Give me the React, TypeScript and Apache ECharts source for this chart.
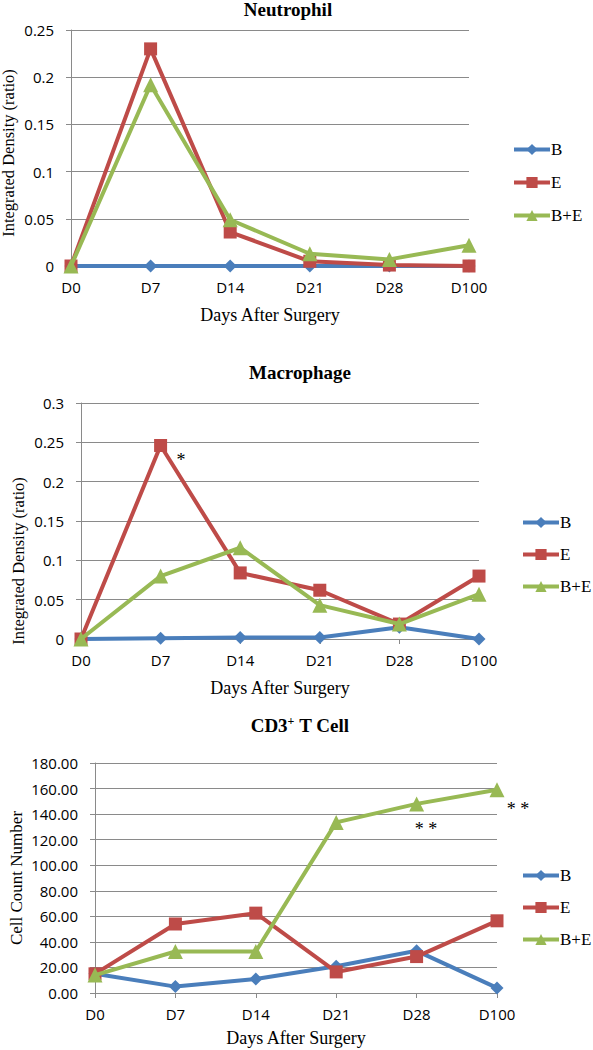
import React, { useEffect, useRef } from "react";
import * as echarts from "echarts";

const categories = ["D0", "D7", "D14", "D21", "D28", "D100"];
const seriesNames = ["B", "E", "B+E"];

const neutB = [0, 0, 0, 0, 0, 0];
const neutE = [0, 0.23, 0.036, 0.005, 0.001, 0];
const neutBE = [0, 0.192, 0.049, 0.013, 0.007, 0.022];

const macB = [0, 0.001, 0.002, 0.002, 0.015, 0];
const macE = [0, 0.246, 0.084, 0.062, 0.019, 0.08];
const macBE = [0, 0.08, 0.116, 0.043, 0.019, 0.057];

const cd3B = [15, 5, 11, 21, 33, 4];
const cd3E = [15, 54, 62.5, 16.5, 28.5, 56.5];
const cd3BE = [14, 32.5, 32.5, 133.5, 148, 159];

const titles = ["Neutrophil", "Macrophage", "CD3{sup|+} T Cell"];
const yNames = ["Integrated Density (ratio)", "Integrated Density (ratio)", "Cell Count Number"];
const xName = "Days After Surgery";
const annotations = [
  { text: "*", x: 181, y: 460 },
  { text: "* *", x: 426, y: 829 },
  { text: "* *", x: 518, y: 809 },
];

const COLORS = ["#4A7EBB", "#BE4B48", "#98B954"];
const SYMBOLS = ["diamond", "rect", "triangle"];
const SYM_SIZES = [13, 13, 15];
const GRAY = "#8a8a8a";
const SANS = "Open Sans";
const SERIF = "Liberation Serif";

export default function App() {
  const ref = useRef<HTMLDivElement>(null);
  useEffect(() => {
    if (!ref.current) return;
    const chart = echarts.init(ref.current, null, { renderer: "svg" });

    const grids = [
      { left: 71, top: 30, width: 398, height: 236, outerBoundsMode: "none", containLabel: false },
      { left: 81, top: 403, width: 398, height: 236, outerBoundsMode: "none", containLabel: false },
      { left: 95, top: 763, width: 402, height: 230, outerBoundsMode: "none", containLabel: false },
    ];
    const yCfg = [
      { max: 0.25, interval: 0.05, fmt: (v: number) => String(v), gap: 54, pad: [0, 10, 0, 0], fs: 16.5 },
      { max: 0.3, interval: 0.05, fmt: (v: number) => String(v), gap: 54, pad: [0, 80, 0, 0], fs: 16.5 },
      { max: 180, interval: 20, fmt: (v: number) => v.toFixed(2), gap: 70, pad: [0, 0, 0, 0], fs: 17 },
    ];
    const xGaps = [40, 40, 36];
    const data = [
      [neutB, neutE, neutBE],
      [macB, macE, macBE],
      [cd3B, cd3E, cd3BE],
    ];
    const legendPos = [
      { left: 512, top: 141, gap: 16 },
      { left: 521, top: 514, gap: 15 },
      { left: 521, top: 867, gap: 15 },
    ];
    const titlePos = [
      { x: 288, y: 9 },
      { x: 300, y: 372 },
      { x: 300, y: 725 },
    ];

    const series: any[] = [];
    data.forEach((group, gi) => {
      group.forEach((vals, si) => {
        series.push({
          name: seriesNames[si],
          type: "line",
          xAxisIndex: gi,
          yAxisIndex: gi,
          data: vals,
          symbol: SYMBOLS[si],
          symbolSize: SYM_SIZES[si],
          itemStyle: { color: COLORS[si] },
          lineStyle: { color: COLORS[si], width: 4 },
          z: 2 + si,
        });
      });
    });

    const graphic: any[] = [];
    titles.forEach((t, i) => {
      graphic.push({
        type: "text",
        x: titlePos[i].x,
        y: titlePos[i].y,
        style: {
          text: t,
          fontFamily: SERIF,
          fontWeight: "bold",
          fontSize: 19,
          fill: "#000",
          align: "center",
          verticalAlign: "middle",
          rich: {
            sup: { fontSize: 12, fontWeight: "bold", fontFamily: SERIF, verticalAlign: "top", padding: [0, 0, 8, 0] },
          },
        },
      });
    });
    annotations.forEach((a) => {
      graphic.push({
        type: "text",
        x: a.x,
        y: a.y,
        style: {
          text: a.text,
          fontFamily: SERIF,
          fontSize: 18,
          fill: "#000",
          align: "center",
          verticalAlign: "middle",
        },
      });
    });

    const option: any = {
      animation: false,
      backgroundColor: "#ffffff",
      grid: grids,
      xAxis: grids.map((_, i) => ({
        type: "category",
        gridIndex: i,
        data: categories,
        boundaryGap: false,
        axisLine: { show: true, lineStyle: { color: GRAY, width: 1 } },
        axisTick: { show: true, length: 5, alignWithLabel: true, lineStyle: { color: GRAY } },
        axisLabel: { color: "#000", fontFamily: SANS, fontSize: 15, margin: 13 },
        splitLine: { show: false },
        name: xName,
        nameLocation: "middle",
        nameGap: xGaps[i],
        nameMoveOverlap: false,
        nameTextStyle: { fontFamily: SERIF, fontSize: 18, color: "#000" },
      })),
      yAxis: grids.map((_, i) => ({
        type: "value",
        gridIndex: i,
        min: 0,
        max: yCfg[i].max,
        interval: yCfg[i].interval,
        axisLine: { show: true, lineStyle: { color: GRAY, width: 1 } },
        axisTick: { show: true, length: 5, lineStyle: { color: GRAY } },
        axisLabel: { color: "#000", fontFamily: SANS, fontSize: 15, margin: 17, formatter: yCfg[i].fmt },
        splitLine: { show: true, lineStyle: { color: GRAY, width: 1 } },
        name: yNames[i],
        nameLocation: "middle",
        nameGap: yCfg[i].gap,
        nameMoveOverlap: false,
        nameRotate: 90,
        nameTextStyle: { fontFamily: SERIF, fontSize: yCfg[i].fs, color: "#000", padding: yCfg[i].pad },
      })),
      legend: legendPos.map((p) => ({
        data: seriesNames,
        orient: "vertical",
        left: p.left,
        top: p.top,
        itemGap: p.gap,
        itemWidth: 36,
        itemHeight: 14,
        padding: 0,
        selectedMode: false,
        lineStyle: { width: 4 },
        textStyle: { fontFamily: SERIF, fontSize: 17, color: "#000", padding: [0, 0, 0, -4] },
      })),
      series,
      graphic,
    };

    chart.setOption(option);
    return () => chart.dispose();
  }, []);

  return (
    <div
      ref={ref}
      style={{ position: "absolute", left: 0, top: 0, width: 593, height: 1050, background: "#fff" }}
    />
  );
}
